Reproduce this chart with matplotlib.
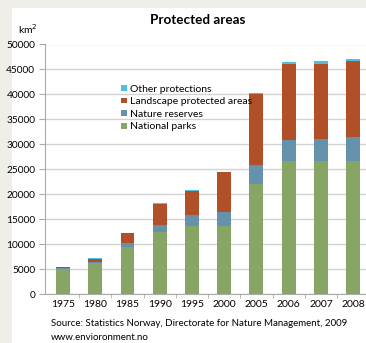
import numpy as np
import matplotlib
matplotlib.use('Agg')
import matplotlib.pyplot as plt
from matplotlib.patches import Rectangle

plt.rcParams['font.family'] = ['Lato', 'DejaVu Sans']

years = ['1975', '1980', '1985', '1990', '1995', '2000', '2005', '2006', '2007', '2008']
national_parks = [5000, 6200, 9450, 12500, 13650, 13700, 22100, 26650, 26650, 26650]
nature_reserves = [200, 300, 850, 1350, 2150, 2750, 3750, 4150, 4350, 4850]
landscape = [150, 500, 1900, 4200, 4800, 7900, 14300, 15200, 15100, 15200]
other = [100, 150, 100, 150, 150, 100, 200, 450, 500, 400]

c_np = '#87a564'
c_nr = '#6591aa'
c_lp = '#b05028'
c_ot = '#50bee1'

fig = plt.figure(figsize=(3.66, 3.43), dpi=100)
fig.patch.set_facecolor('#efeee8')
# white panel behind everything
fig.add_artist(Rectangle((12 / 366, 0), 1, 1 - 8 / 343, transform=fig.transFigure,
                         facecolor='white', edgecolor='none', zorder=-5))

ax = fig.add_axes([45 / 366, 1 - 294 / 343, 1 - 45 / 366, (294 - 44.5) / 343])
ax.set_facecolor('white')

x = np.arange(len(years))
w = 0.43
b1 = np.array(national_parks)
b2 = b1 + np.array(nature_reserves)
b3 = b2 + np.array(landscape)
ax.bar(x, national_parks, w, color=c_np, label='National parks', zorder=3)
ax.bar(x, nature_reserves, w, bottom=b1, color=c_nr, label='Nature reserves', zorder=3)
ax.bar(x, landscape, w, bottom=b2, color=c_lp, label='Landscape protected areas', zorder=3)
ax.bar(x, other, w, bottom=b3, color=c_ot, label='Other protections', zorder=3)

ax.set_xlim(-0.56, 9.4)
ax.set_ylim(0, 50000)
ax.set_yticks(range(0, 50001, 5000))
ax.tick_params(axis='y', labelsize=7.3, length=4, color='#aaaaaa', pad=3)
ax.set_xticks(x)
ax.set_xticklabels(years)
ax.tick_params(axis='x', labelsize=7.5, length=0, pad=4)
ax.set_xticks(np.arange(0.5, 9, 1), minor=True)
ax.tick_params(axis='x', which='minor', length=3, color='#aaaaaa')
ax.grid(axis='y', color='#d2d2d2', lw=1, zorder=0)
for s in ['top', 'right']:
    ax.spines[s].set_visible(False)
ax.spines['left'].set_color('#aaaaaa')
ax.spines['bottom'].set_color('#aaaaaa')

h, l = ax.get_legend_handles_labels()
ax.legend(h[::-1], l[::-1], loc='upper left', bbox_to_anchor=(0.222, 0.86), frameon=False,
          fontsize=7.5, handlelength=0.5, handleheight=0.5, handletextpad=0.3,
          labelspacing=0.34, borderpad=0)

fig.text(198 / 366, 1 - 20 / 343, 'Protected areas', ha='center', va='center',
         fontsize=9.7, fontweight='bold')
fig.text(18 / 366, 1 - 29 / 343, 'km$^2$', ha='left', va='center', fontsize=7.5)
fig.text(51 / 366, 1 - 323 / 343, 'Source: Statistics Norway, Directorate for Nature Management, 2009',
         ha='left', va='center', fontsize=7)
fig.text(51 / 366, 1 - 338 / 343, 'www.envioronment.no', ha='left', va='center', fontsize=7)

fig.savefig('out.png', dpi=100, facecolor=fig.get_facecolor())
